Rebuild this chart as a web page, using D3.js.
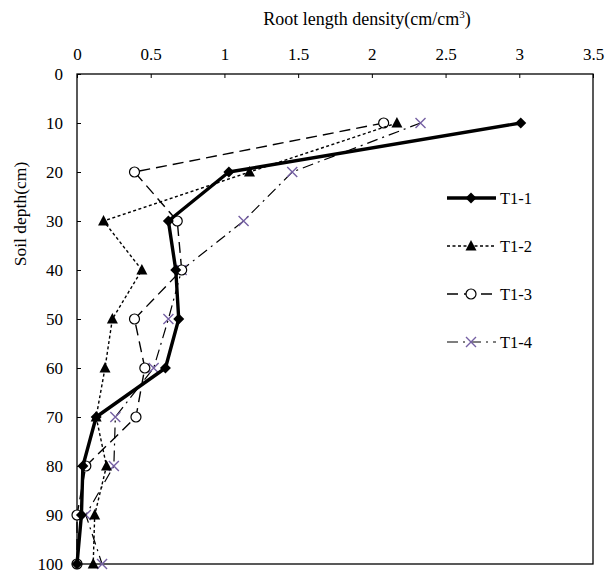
<!DOCTYPE html>
<html>
<head>
<meta charset="utf-8">
<script src="https://cdn.jsdelivr.net/npm/d3@7"></script>
<style>
  html, body { margin: 0; padding: 0; background: #fff; }
  svg { display: block; }
  svg text { font-family: 'Liberation Serif', 'Times New Roman', serif !important; fill: #000; }
</style>
</head>
<body>
<svg id="chart" width="605" height="576"></svg>
<script>
// Soil depth (cm) of each sampling layer
const depths = [10, 20, 30, 40, 50, 60, 70, 80, 90, 100];
// Root length density (cm/cm3) per treatment
const t11 = [3.01, 1.03, 0.62, 0.67, 0.69, 0.60, 0.13, 0.04, 0.03, 0.00];
const t12 = [2.17, 1.17, 0.18, 0.44, 0.24, 0.19, 0.13, 0.20, 0.12, 0.11];
const t13 = [2.08, 0.39, 0.68, 0.71, 0.39, 0.46, 0.40, 0.06, 0.00, 0.00];
const t14 = [2.33, 1.46, 1.13, 0.71, 0.62, 0.52, 0.26, 0.25, 0.06, 0.17];
const seriesNames = ["T1-1", "T1-2", "T1-3", "T1-4"];
const xTicks = [0, 0.5, 1, 1.5, 2, 2.5, 3, 3.5];
const yTicks = [0, 10, 20, 30, 40, 50, 60, 70, 80, 90, 100];

const serif = "'Liberation Serif', 'Times New Roman', serif";
const svg = d3.select("#chart").style("font-family", serif);
const plotL = 77, plotR = 593, plotT = 74, plotB = 564;

const x = d3.scaleLinear().domain([0, 3.5]).range([plotL, plotR]);
const y = d3.scaleLinear().domain([0, 100]).range([plotT, plotB]);

// top axis, ticks pointing into the plot
const xAxis = d3.axisTop(x).tickValues(xTicks).tickSizeInner(-4).tickSizeOuter(0)
  .tickPadding(14).tickFormat(d3.format("~g"));
const gx = svg.append("g").attr("transform", `translate(0,${plotT})`).call(xAxis)
  .attr("font-family", serif).attr("font-size", 17);
gx.select(".domain").remove();
gx.selectAll(".tick line").attr("stroke", "#000");

// left axis, ticks pointing into the plot
const yAxis = d3.axisLeft(y).tickValues(yTicks).tickSizeInner(-4).tickSizeOuter(0).tickPadding(14);
const gy = svg.append("g").attr("transform", `translate(${plotL},0)`).call(yAxis)
  .attr("font-family", serif).attr("font-size", 17);
gy.select(".domain").remove();
gy.selectAll(".tick line").attr("stroke", "#000");

// plot frame
svg.append("rect")
  .attr("x", plotL).attr("y", plotT)
  .attr("width", plotR - plotL).attr("height", plotB - plotT)
  .attr("fill", "none").attr("stroke", "#000").attr("stroke-width", 1.3);

// axis titles
const title = svg.append("text").attr("x", 367).attr("y", 25).attr("text-anchor", "middle")
  .attr("font-size", 18);
title.append("tspan").text("Root length density(cm/cm");
title.append("tspan").text("3").attr("font-size", 11).attr("dy", -7);
title.append("tspan").text(")").attr("dy", 7);

svg.append("text").attr("transform", "translate(26,214) rotate(-90)")
  .attr("text-anchor", "middle").attr("font-size", 17.5).text("Soil depth(cm)");

const purple = "#7560a3";
const styles = [
  { vals: t11, width: 3.4, dash: null, marker: "diamond" },
  { vals: t12, width: 1.4, dash: "3,2.5", marker: "triangle" },
  { vals: t13, width: 1.4, dash: "11,6", marker: "circle" },
  { vals: t14, width: 1.2, dash: "11,5,2,5", marker: "cross" }
];

function drawMarker(g, kind, cx, cy) {
  if (kind === "diamond") {
    g.append("path").attr("d", `M${cx},${cy - 5.5}L${cx + 5.5},${cy}L${cx},${cy + 5.5}L${cx - 5.5},${cy}Z`)
      .attr("fill", "#000");
  } else if (kind === "triangle") {
    g.append("path").attr("d", `M${cx},${cy - 6}L${cx + 5.5},${cy + 4.5}L${cx - 5.5},${cy + 4.5}Z`)
      .attr("fill", "#000");
  } else if (kind === "circle") {
    g.append("circle").attr("cx", cx).attr("cy", cy).attr("r", 5)
      .attr("fill", "#fff").attr("stroke", "#000").attr("stroke-width", 1.2);
  } else {
    g.append("path").attr("d", `M${cx - 5},${cy - 5}L${cx + 5},${cy + 5}M${cx - 5},${cy + 5}L${cx + 5},${cy - 5}`)
      .attr("stroke", purple).attr("stroke-width", 1.4).attr("fill", "none");
  }
}

const line = d3.line().x(d => x(d[0])).y(d => y(d[1]));

// draw series from last to first so the thick solid line sits on top
styles.slice().reverse().forEach(s => {
  const pts = s.vals.map((v, i) => [v, depths[i]]);
  const g = svg.append("g");
  g.append("path").datum(pts).attr("d", line)
    .attr("fill", "none").attr("stroke", "#000")
    .attr("stroke-width", s.width)
    .attr("stroke-dasharray", s.dash)
    .attr("stroke-linejoin", "round");
  pts.forEach(p => drawMarker(g, s.marker, x(p[0]), y(p[1])));
});

// legend
const legY0 = 198, legStep = 48;
styles.forEach((s, i) => {
  const ly = legY0 + i * legStep;
  const g = svg.append("g");
  g.append("line").attr("x1", 447).attr("x2", 496).attr("y1", ly).attr("y2", ly)
    .attr("stroke", "#000").attr("stroke-width", s.width)
    .attr("stroke-dasharray", s.dash);
  drawMarker(g, s.marker, 471, ly);
  g.append("text").attr("x", 500).attr("y", ly + 5.5).attr("font-size", 16.5).text(seriesNames[i]);
});
</script>
</body>
</html>
